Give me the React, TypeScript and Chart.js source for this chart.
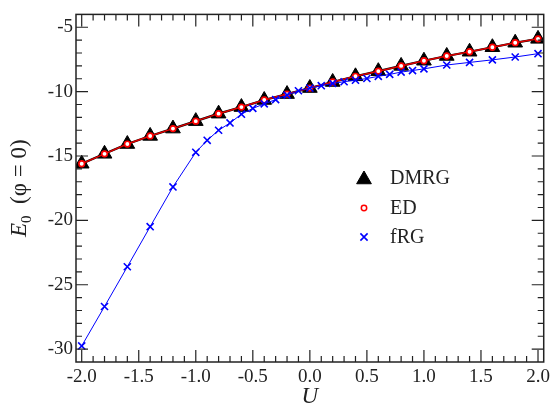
import React, { useEffect, useRef } from "react";
import { Chart, registerables } from "chart.js";

Chart.register(...registerables);

// ---- data ----
const U_DMRG = [-2.0, -1.8, -1.6, -1.4, -1.2, -1.0, -0.8, -0.6, -0.4, -0.2, 0.0, 0.2, 0.4, 0.6, 0.8, 1.0, 1.2, 1.4, 1.6, 1.8, 2.0];
const E_DMRG = [-15.6, -14.83, -14.07, -13.44, -12.87, -12.29, -11.71, -11.2, -10.65, -10.19, -9.72, -9.25, -8.81, -8.41, -8.0, -7.6, -7.23, -6.9, -6.55, -6.2, -5.9];
const U_ED = [-2.0, -1.8, -1.6, -1.4, -1.2, -1.0, -0.8, -0.6, -0.4, -0.2, 0.0, 0.2, 0.4, 0.6, 0.8, 1.0, 1.2, 1.4, 1.6, 1.8, 2.0];
const E_ED = [-15.6, -14.83, -14.07, -13.44, -12.87, -12.29, -11.71, -11.2, -10.65, -10.19, -9.72, -9.25, -8.81, -8.41, -8.0, -7.6, -7.23, -6.9, -6.55, -6.2, -5.9];
const U_FRG = [-2.0, -1.8, -1.6, -1.4, -1.2, -1.0, -0.9, -0.8, -0.7, -0.6, -0.5, -0.4, -0.3, -0.2, -0.1, 0.0, 0.1, 0.2, 0.3, 0.4, 0.5, 0.6, 0.7, 0.8, 0.9, 1.0, 1.2, 1.4, 1.6, 1.8, 2.0];
const E_FRG = [-29.75, -26.69, -23.6, -20.49, -17.4, -14.71, -13.78, -13.0, -12.43, -11.75, -11.3, -10.95, -10.62, -10.27, -9.93, -9.72, -9.54, -9.36, -9.23, -9.11, -8.98, -8.81, -8.66, -8.48, -8.36, -8.23, -7.93, -7.73, -7.53, -7.31, -7.05];

const SERIES_LABELS = ["DMRG", "ED", "fRG"];
const X_TICKS = [-2.0, -1.5, -1.0, -0.5, 0.0, 0.5, 1.0, 1.5, 2.0];
const Y_TICKS = [-30, -25, -20, -15, -10, -5];
const X_MINOR_STEP = 0.1;
const Y_MINOR_STEP = 1;
const X_RANGE = [-2.05, 2.05];
const Y_RANGE = [-31, -4];

const FONT = "'Liberation Serif', 'Times New Roman', serif";
const INK = "#222";
const TRI_R = 8.5;

const toPts = (xs: number[], ys: number[]) => xs.map((x, i) => ({ x, y: ys[i] }));

const decorPlugin = {
  id: "decor",
  afterDatasetsDraw(chart: any) {
    const { ctx, chartArea: a, scales } = chart;
    const xs = scales.x;
    const ys = scales.y;
    ctx.save();
    // frame
    ctx.strokeStyle = INK;
    ctx.lineWidth = 1.5;
    ctx.strokeRect(a.left, a.top, a.right - a.left, a.bottom - a.top);
    // ticks
    ctx.lineWidth = 1.2;
    ctx.beginPath();
    const nx = Math.round((X_TICKS[X_TICKS.length - 1] - X_TICKS[0]) / X_MINOR_STEP);
    for (let i = 0; i <= nx; i++) {
      const v = X_TICKS[0] + i * X_MINOR_STEP;
      const major = X_TICKS.some((t) => Math.abs(t - v) < 1e-6);
      const len = major ? 12 : 6;
      const px = xs.getPixelForValue(v);
      ctx.moveTo(px, a.bottom);
      ctx.lineTo(px, a.bottom - len);
      ctx.moveTo(px, a.top);
      ctx.lineTo(px, a.top + len);
    }
    for (let v = Y_RANGE[0] + Y_MINOR_STEP; v < Y_RANGE[1]; v += Y_MINOR_STEP) {
      const major = Y_TICKS.some((t) => Math.abs(t - v) < 1e-6);
      const len = major ? 12 : 6;
      const py = ys.getPixelForValue(v);
      ctx.moveTo(a.left, py);
      ctx.lineTo(a.left + len, py);
      ctx.moveTo(a.right, py);
      ctx.lineTo(a.right - len, py);
    }
    ctx.stroke();

    // x title
    ctx.fillStyle = INK;
    ctx.textBaseline = "alphabetic";
    ctx.textAlign = "center";
    ctx.font = `italic 23px ${FONT}`;
    ctx.fillText("U", (a.left + a.right) / 2, 403);

    // y title (rotated)
    ctx.save();
    ctx.translate(26, (a.top + a.bottom) / 2);
    ctx.rotate(-Math.PI / 2);
    ctx.textAlign = "left";
    const fE = `italic 23px ${FONT}`;
    const fSub = `15px ${FONT}`;
    const fRest = `23px ${FONT}`;
    ctx.font = fE;
    const wE = ctx.measureText("E").width;
    ctx.font = fSub;
    const wS = ctx.measureText("0").width;
    ctx.font = fRest;
    const rest = "  (\u03C6 = 0)";
    const wR = ctx.measureText(rest).width;
    const total = wE + wS + wR;
    let cx = -total / 2;
    ctx.font = fE;
    ctx.fillText("E", cx, 0);
    cx += wE;
    ctx.font = fSub;
    ctx.fillText("0", cx, 5);
    cx += wS;
    ctx.font = fRest;
    ctx.fillText(rest, cx, 0);
    ctx.restore();

    // legend
    const lx = 364;
    const ly = [178, 208, 237];
    ctx.font = `20px ${FONT}`;
    ctx.textAlign = "left";
    ctx.textBaseline = "middle";
    ctx.fillStyle = INK;
    SERIES_LABELS.forEach((lab, i) => ctx.fillText(lab, 390, ly[i] + 1));
    // triangle
    ctx.fillStyle = "#000";
    ctx.strokeStyle = "#000";
    ctx.lineWidth = 1;
    ctx.beginPath();
    for (let k = 0; k < 3; k++) {
      const ang = (k * 2 * Math.PI) / 3;
      const px = lx + Math.sin(ang) * TRI_R;
      const py = ly[0] + 1.5 - Math.cos(ang) * TRI_R;
      if (k === 0) ctx.moveTo(px, py);
      else ctx.lineTo(px, py);
    }
    ctx.closePath();
    ctx.fill();
    ctx.stroke();
    // circle
    ctx.strokeStyle = "#ff0000";
    ctx.fillStyle = "#fff";
    ctx.lineWidth = 1.5;
    ctx.beginPath();
    ctx.arc(lx, ly[1], 2.7, 0, Math.PI * 2);
    ctx.fill();
    ctx.stroke();
    // cross
    ctx.strokeStyle = "#0000ff";
    ctx.lineWidth = 1.6;
    const c = 3.6;
    ctx.beginPath();
    ctx.moveTo(lx - c, ly[2] - c);
    ctx.lineTo(lx + c, ly[2] + c);
    ctx.moveTo(lx - c, ly[2] + c);
    ctx.lineTo(lx + c, ly[2] - c);
    ctx.stroke();
    ctx.restore();
  },
};

export default function App() {
  const ref = useRef<HTMLCanvasElement>(null);
  useEffect(() => {
    document.body.style.margin = "0";
    const canvas = ref.current!;
    const tickFont = { family: FONT, size: 19 };
    const chart = new Chart(canvas, {
      type: "scatter",
      data: {
        datasets: [
          {
            label: SERIES_LABELS[0],
            data: toPts(U_DMRG, E_DMRG),
            showLine: true,
            borderColor: "#000",
            borderWidth: 2.2,
            backgroundColor: "#000",
            pointStyle: "triangle",
            pointRadius: TRI_R,
            pointBorderWidth: 1,
            pointBorderColor: "#000",
            pointBackgroundColor: "#000",
            order: 2,
          },
          {
            label: SERIES_LABELS[1],
            data: toPts(U_ED, E_ED),
            showLine: true,
            borderColor: "#e00000",
            borderWidth: 1.5,
            pointStyle: "circle",
            pointRadius: 2.8,
            pointBorderWidth: 1.7,
            pointBorderColor: "#ff0000",
            pointBackgroundColor: "#fff",
            order: 1,
          },
          {
            label: SERIES_LABELS[2],
            data: toPts(U_FRG, E_FRG),
            showLine: true,
            borderColor: "#0000ff",
            borderWidth: 1,
            pointStyle: "crossRot",
            pointRadius: 5,
            pointBorderWidth: 1.6,
            pointBorderColor: "#0000ff",
            order: 0,
          },
        ],
      },
      options: {
        responsive: false,
        animation: false,
        devicePixelRatio: 1,
        layout: { padding: { top: 4, right: 6, left: 0, bottom: 0 } },
        plugins: { legend: { display: false }, tooltip: { enabled: false } },
        scales: {
          x: {
            type: "linear",
            min: X_RANGE[0],
            max: X_RANGE[1],
            grid: { display: false, drawTicks: false },
            border: { display: false },
            afterBuildTicks: (s: any) => {
              s.ticks = X_TICKS.map((v) => ({ value: v }));
            },
            afterFit: (s: any) => {
              s.height = 47;
            },
            ticks: {
              callback: (v: any) => Number(v).toFixed(1),
              font: tickFont,
              color: INK,
              padding: 4,
              maxRotation: 0,
              autoSkip: false,
            },
          },
          y: {
            type: "linear",
            min: Y_RANGE[0],
            max: Y_RANGE[1],
            grid: { display: false, drawTicks: false },
            border: { display: false },
            afterBuildTicks: (s: any) => {
              s.ticks = Y_TICKS.map((v) => ({ value: v }));
            },
            afterFit: (s: any) => {
              s.width = 76;
            },
            ticks: {
              callback: (v: any) => String(v),
              font: tickFont,
              color: INK,
              padding: 3,
              autoSkip: false,
            },
          },
        },
      },
      plugins: [decorPlugin],
    } as any);
    return () => chart.destroy();
  }, []);
  return (
    <div style={{ width: 554, height: 409 }}>
      <canvas ref={ref} width={554} height={409} style={{ display: "block" }} />
    </div>
  );
}
